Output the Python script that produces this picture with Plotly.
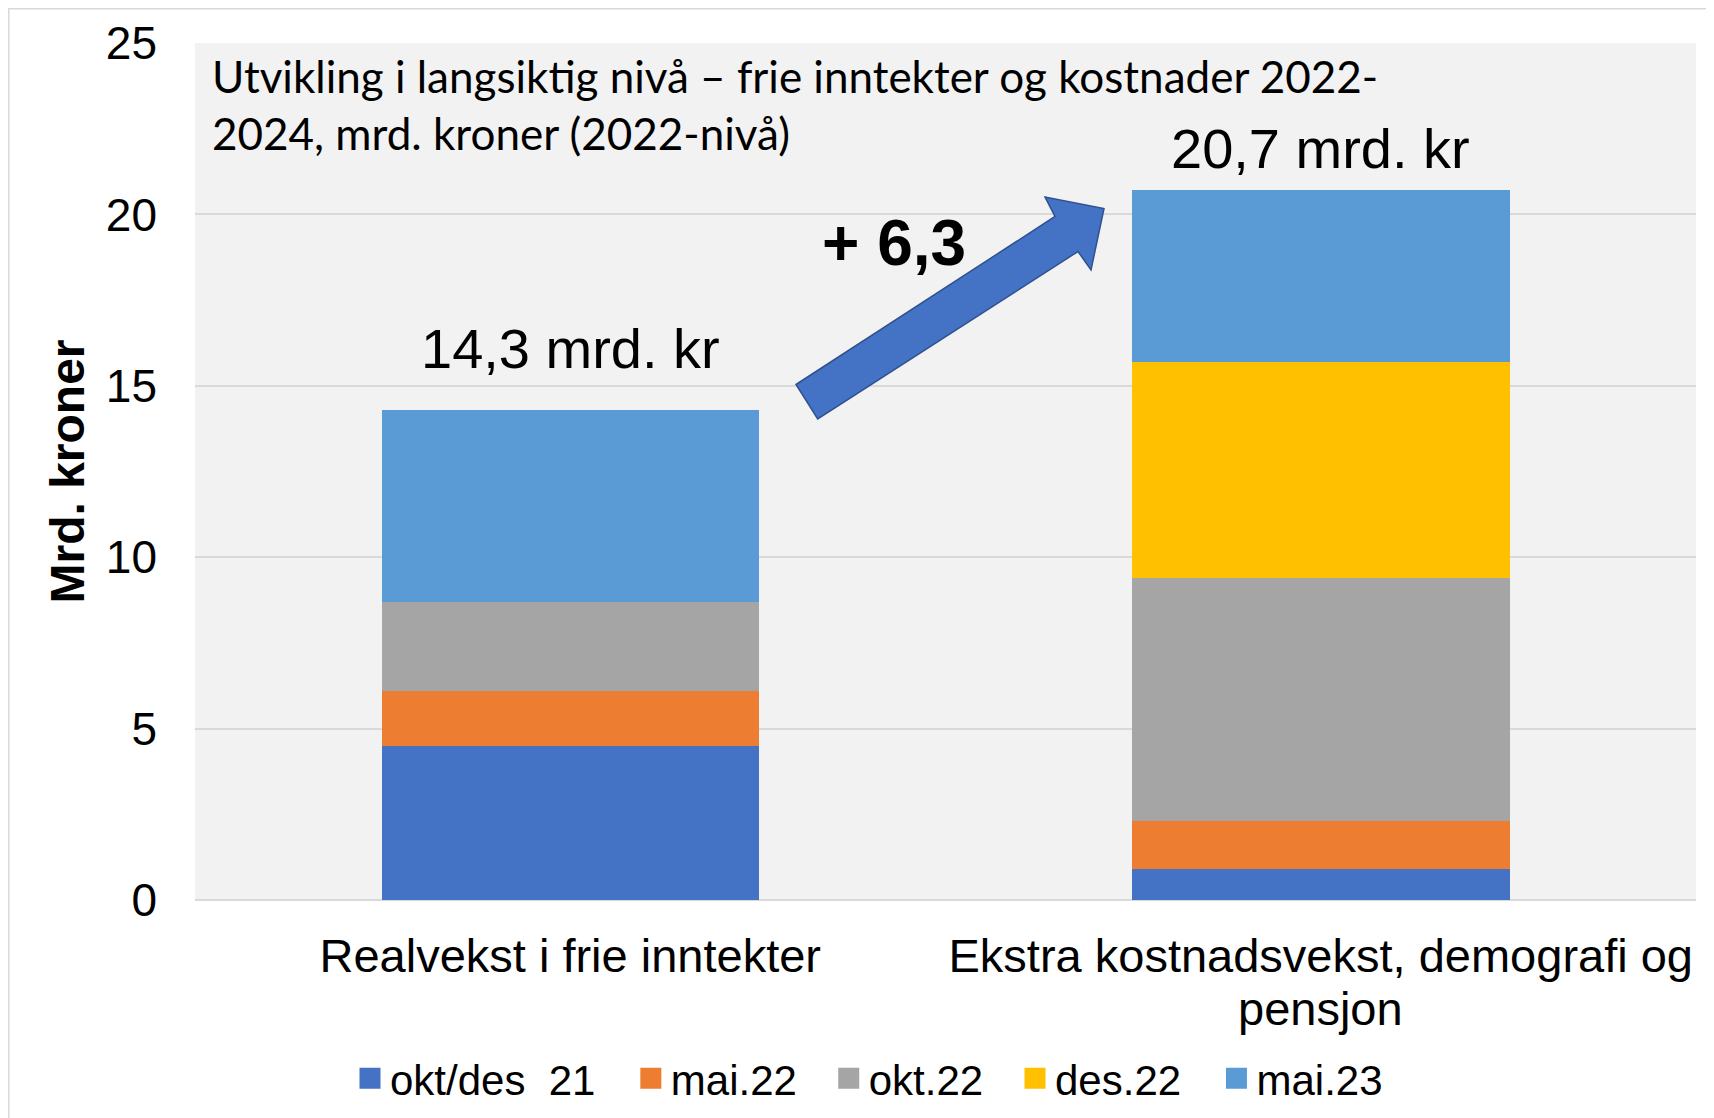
import plotly.graph_objects as go

# ---- data ----
categories = ["Realvekst i frie inntekter", "Ekstra kostnadsvekst, demografi og pensjon"]
tick_line1 = ["Realvekst i frie inntekter", "Ekstra kostnadsvekst, demografi og"]
tick_line2 = ["", "pensjon"]
series_names = ["okt/des\u00a0\u00a021", "mai.22", "okt.22", "des.22", "mai.23"]
okt_des_21 = [4.5, 0.9]
mai_22 = [1.6, 1.4]
okt_22 = [2.6, 7.1]
des_22 = [0.0, 6.3]
mai_23 = [5.6, 5.0]
series_values = [okt_des_21, mai_22, okt_22, des_22, mai_23]
series_colors = ["#4472C4", "#ED7D31", "#A5A5A5", "#FFC000", "#5B9BD5"]
y_ticks = [0, 5, 10, 15, 20, 25]
title_text = "Utvikling i langsiktig nivå – frie inntekter og kostnader 2022-<br>2024, mrd. kroner (2022-nivå)"
change_text = "+ 6,3"

OFF = 8  # default page body margin
W, H = 1714 - OFF, 1118 - OFF
ML, MR, MT, MB = 195 - OFF, 18, 43 - OFF, 218
PW, PH = W - ML - MR, H - MT - MB

def px(x, y):
    """page pixel -> paper coords"""
    return (x - OFF - ML) / PW, (MT + PH - (y - OFF)) / PH

ARIAL = "Liberation Sans, Arial, sans-serif"
# trailing spacing after each legend entry (matches the reference item spacing)
legend_pads = ["\u00a0\u00a0\u200a\u200a", "\u00a0\u00a0\u200a", "\u00a0\u00a0\u200a",
               "\u00a0\u00a0\u200a\u200a", ""]

fig = go.Figure()
for name, vals, col in zip(series_names, series_values, series_colors):
    fig.add_trace(go.Bar(x=categories, y=vals, name=name, showlegend=False,
                         marker=dict(color=col, line=dict(width=0))))
# legend entries (square swatches)
for name, col, pad in zip(series_names, series_colors, legend_pads):
    fig.add_trace(go.Scatter(x=[None], y=[None], mode="markers", name=name + pad,
                             marker=dict(symbol="square", size=16, color=col,
                                         line=dict(color=col, width=5)),
                             hoverinfo="skip"))

totals = [sum(v[i] for v in series_values) for i in range(len(categories))]
label_shift = [61, 41.5]
annotations = []
for i, cat in enumerate(categories):
    annotations.append(dict(
        x=cat, y=totals[i], xref="x", yref="y",
        text=f"{totals[i]:.1f}".replace(".", ",") + " mrd. kr",
        showarrow=False, yanchor="middle", xanchor="center", yshift=label_shift[i],
        font=dict(family=ARIAL, size=56, color="black")))
    if tick_line2[i]:
        _, py2 = px(0, 1008.5)
        annotations.append(dict(
            x=cat, y=py2, xref="x", yref="paper", text=tick_line2[i],
            showarrow=False, yanchor="middle", xanchor="center",
            font=dict(family=ARIAL, size=47, color="black")))

tx, ty = px(210, 104)
annotations.append(dict(x=tx, y=ty, xref="paper", yref="paper", text=title_text,
                        showarrow=False, xanchor="left", yanchor="middle", align="left",
                        font=dict(family="Lato, sans-serif", size=44, color="black")))
cx, cy = px(894, 243)
annotations.append(dict(x=cx, y=cy, xref="paper", yref="paper", text="<b>" + change_text + "</b>",
                        showarrow=False, xanchor="center", yanchor="middle",
                        font=dict(family=ARIAL, size=64, color="black")))

arrow_pts = [(796, 384.5), (1055, 216.5), (1045, 197), (1104, 208.5),
             (1091, 270), (1078, 251.5), (817.7, 419)]
path = "M " + " L ".join(f"{px(a, b)[0]:.5f},{px(a, b)[1]:.5f}" for a, b in arrow_pts) + " Z"

bx0, by1 = px(OFF + 0.8, OFF + 0.8)
shapes = [
    dict(type="path", path=path, xref="paper", yref="paper",
         fillcolor="#4472C4", line=dict(color="#2F528F", width=1.5)),
    dict(type="rect", xref="paper", yref="paper", x0=bx0, y0=-0.5, x1=1.2, y1=by1,
         line=dict(color="#D9D9D9", width=1.5), layer="below"),
]

lx, ly = px(350, 1078.5)
fig.update_layout(
    width=W, height=H,
    margin=dict(l=ML, r=MR, t=MT, b=MB, autoexpand=False),
    barmode="stack", bargap=0.497,
    paper_bgcolor="white", plot_bgcolor="#F2F2F2",
    font=dict(family=ARIAL, color="black"),
    showlegend=True,
    legend=dict(orientation="h", x=lx, y=ly, xanchor="left", yanchor="middle",
                traceorder="normal", bgcolor="rgba(0,0,0,0)", itemsizing="trace",
                font=dict(family=ARIAL, size=42, color="black")),
    annotations=annotations, shapes=shapes,
)
fig.update_xaxes(type="category", tickvals=categories, ticktext=tick_line1,
                 tickfont=dict(family=ARIAL, size=47, color="black"),
                 showgrid=False, showline=False, ticks="", ticklabelstandoff=24)
fig.update_yaxes(range=[0, 25], tickvals=y_ticks, ticks="",
                 tickfont=dict(family=ARIAL, size=46, color="black"),
                 showgrid=True, gridcolor="#D9D9D9", gridwidth=1.5,
                 zeroline=True, zerolinecolor="#D9D9D9", zerolinewidth=1.5,
                 showline=False, ticklabelstandoff=37,
                 title=dict(text="<b>Mrd. kroner</b>", standoff=6,
                            font=dict(family=ARIAL, size=48, color="black")))

fig.write_html("out.html")
